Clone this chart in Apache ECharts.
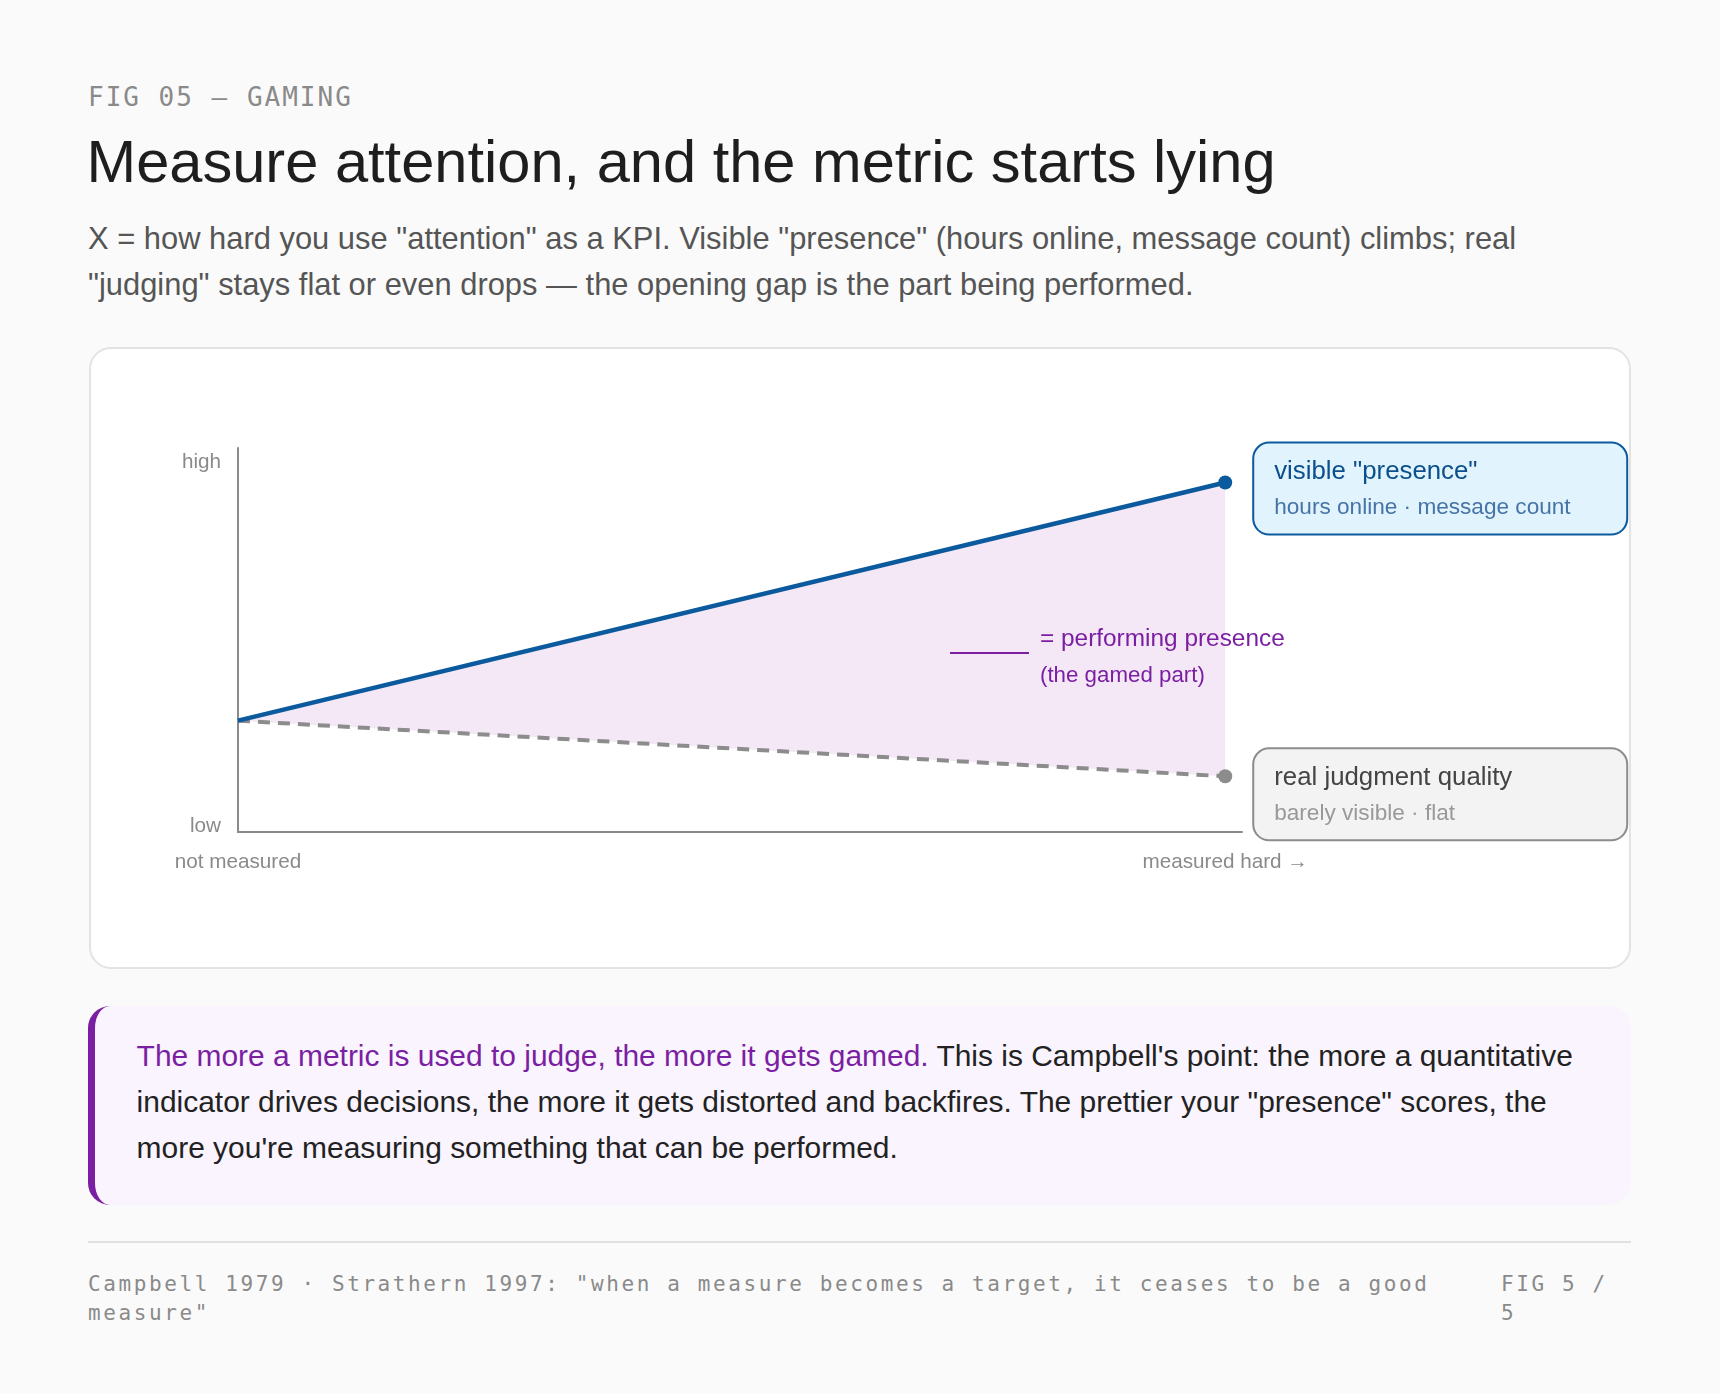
<!DOCTYPE html>
<html>
<head>
<meta charset="utf-8">
<script src="https://cdn.jsdelivr.net/npm/echarts@6.0.0/dist/echarts.min.js"></script>
<style>
html,body{margin:0;padding:0;background:#fafafa;}
body{width:1720px;height:1394px;position:relative;overflow:hidden;font-family:"Liberation Sans",Arial,sans-serif;}
.abs{position:absolute;}
#kicker{left:88px;top:82px;font:26px/30px "DejaVu Sans Mono",monospace;letter-spacing:2px;color:#8a8a8a;white-space:nowrap;}
#title{left:86.5px;top:126px;font-size:59.6px;line-height:72px;color:#1e1e1e;white-space:nowrap;}
#sub{left:88px;top:215.6px;font-size:30.9px;line-height:46.3px;color:#555;white-space:nowrap;}
#card{left:89px;top:347px;width:1542px;height:622px;box-sizing:border-box;border:2px solid #e3e3e3;border-radius:22px;background:#fff;}
#chart{position:absolute;left:0;top:0;width:1538px;height:618px;}
#callout{left:88px;top:1006px;width:1543px;height:199px;box-sizing:border-box;background:#f9f4fd;border-left:7px solid #7b1fa2;border-radius:22px;padding:26.8px 0 0 41.6px;font-size:29.95px;line-height:46.3px;color:#222;white-space:nowrap;}
#callout span{color:#7b1fa2;}
#rule{left:88px;top:1241px;width:1543px;height:2px;background:#e0e0e0;}
.foot{top:1270px;font:21px/29px "DejaVu Sans Mono",monospace;letter-spacing:2.6px;color:#8a8a8a;white-space:nowrap;}
#footL{left:88px;}
#footR{left:1501px;}
</style>
</head>
<body>
<div id="kicker" class="abs">FIG 05 — GAMING</div>
<div id="title" class="abs">Measure attention, and the metric starts lying</div>
<div id="sub" class="abs">X = how hard you use "attention" as a KPI. Visible "presence" (hours online, message count) climbs; real<br>"judging" stays flat or even drops — the opening gap is the part being performed.</div>
<div id="card" class="abs"><div id="chart"></div></div>
<div id="callout" class="abs"><span>The more a metric is used to judge, the more it gets gamed.</span> This is Campbell's point: the more a quantitative<br>indicator drives decisions, the more it gets distorted and backfires. The prettier your "presence" scores, the<br>more you're measuring something that can be performed.</div>
<div id="rule" class="abs"></div>
<div id="footL" class="abs foot">Campbell 1979 · Strathern 1997: "when a measure becomes a target, it ceases to be a good<br>measure"</div>
<div id="footR" class="abs foot">FIG 5 /<br>5</div>
<script>
// ---- data ----
const xValues = [0, 1];
const presenceValues = [0.29, 0.91];
const judgmentValues = [0.29, 0.145];
const xTickValues = [0, 1];
const xTickLabels = ['not measured', 'measured hard \u2192'];
const yTickValues = [0.0141, 0.9628];
const yTickLabels = ['low', 'high'];
const xAxisMax = 1.017;
const presenceLabel = ['visible "presence"', 'hours online \u00b7 message count'];
const judgmentLabel = ['real judgment quality', 'barely visible \u00b7 flat'];
const gapLabel = ['= performing presence', '(the gamed part)'];

// ---- build ----
const last = xValues.length - 1;
const withEndDot = ys => xValues.map((x, i) => ({ value: [x, ys[i]], symbolSize: i === last ? 14 : 0 }));
const FF = '"Liberation Sans", Arial, sans-serif';

const chart = echarts.init(document.getElementById('chart'));
chart.setOption({
  animation: false,
  textStyle: { fontFamily: FF },
  grid: { left: 147, top: 99, width: 1004, height: 384 },
  xAxis: {
    type: 'value', min: 0, max: xAxisMax,
    axisLine: { show: true, onZero: false, lineStyle: { color: '#8a8a8a', width: 2 } },
    axisTick: { show: false },
    splitLine: { show: false },
    axisLabel: {
      customValues: xTickValues,
      formatter: v => xTickLabels[xTickValues.indexOf(v)] || '',
      margin: 20, fontSize: 20.7, color: '#8a8a8a', fontFamily: FF
    }
  },
  yAxis: {
    type: 'value', min: 0, max: 1,
    axisLine: { show: true, lineStyle: { color: '#8a8a8a', width: 2 } },
    axisTick: { show: false },
    splitLine: { show: false },
    axisLabel: {
      customValues: yTickValues,
      formatter: v => yTickLabels[yTickValues.indexOf(v)] || '',
      margin: 17, fontSize: 20.7, color: '#8a8a8a', fontFamily: FF
    }
  },
  series: [
    { type: 'custom', name: 'gap', silent: true, z: 1,
      data: xValues.slice(0, last).map((x, i) => [x, presenceValues[i]]),
      renderItem: (params, api) => {
        const i = params.dataIndex;
        const pts = [
          api.coord([xValues[i], presenceValues[i]]),
          api.coord([xValues[i + 1], presenceValues[i + 1]]),
          api.coord([xValues[i + 1], judgmentValues[i + 1]]),
          api.coord([xValues[i], judgmentValues[i]])
        ];
        return { type: 'polygon', shape: { points: pts }, style: { fill: '#f4e8f6' } };
      }
    },
    { type: 'line', name: 'judgment', data: withEndDot(judgmentValues), symbol: 'circle', showSymbol: true,
      lineStyle: { color: '#8c8c8c', width: 4, type: [12, 8] },
      itemStyle: { color: '#8c8c8c', borderWidth: 0 }, z: 2,
      endLabel: {
        show: true, position: 'right', distance: 29, offset: [0, 18],
        formatter: () => '{t|' + judgmentLabel[0] + '}\n{s|' + judgmentLabel[1] + '}',
        backgroundColor: '#f3f3f3', borderColor: '#8c8c8c', borderWidth: 2, borderRadius: 15,
        padding: [10.5, 18, 7.5, 20], width: 334, align: 'left',
        rich: {
          t: { fontSize: 25.8, lineHeight: 36, color: '#444', fontFamily: FF },
          s: { fontSize: 22.6, lineHeight: 36, color: '#999', fontFamily: FF }
        }
      }
    },
    { type: 'line', name: 'presence', data: withEndDot(presenceValues), symbol: 'circle', showSymbol: true,
      lineStyle: { color: '#0b5a9e', width: 4.5 },
      itemStyle: { color: '#0b5a9e', borderWidth: 0 }, z: 3,
      endLabel: {
        show: true, position: 'right', distance: 29, offset: [0, 6],
        formatter: () => '{t|' + presenceLabel[0] + '}\n{s|' + presenceLabel[1] + '}',
        backgroundColor: '#e1f3fc', borderColor: '#0b5a9e', borderWidth: 2, borderRadius: 15,
        padding: [10, 18, 8, 20], width: 334, align: 'left',
        rich: {
          t: { fontSize: 25.8, lineHeight: 36, color: '#0b4f8c', fontFamily: FF },
          s: { fontSize: 22.6, lineHeight: 36, color: '#4674a6', fontFamily: FF }
        }
      }
    }
  ],
  graphic: [
    { type: 'line', silent: true, z: 10, shape: { x1: 859, y1: 304, x2: 938, y2: 304 },
      style: { stroke: '#7b1fa2', lineWidth: 2 } },
    { type: 'text', silent: true, z: 10, x: 949, y: 290.5,
      style: { text: gapLabel[0], fontSize: 24.4, fontFamily: FF, fill: '#7b1fa2', verticalAlign: 'middle' } },
    { type: 'text', silent: true, z: 10, x: 949, y: 327,
      style: { text: gapLabel[1], fontSize: 22.3, fontFamily: FF, fill: '#7b1fa2', verticalAlign: 'middle' } }
  ]
});
</script>
</body>
</html>
